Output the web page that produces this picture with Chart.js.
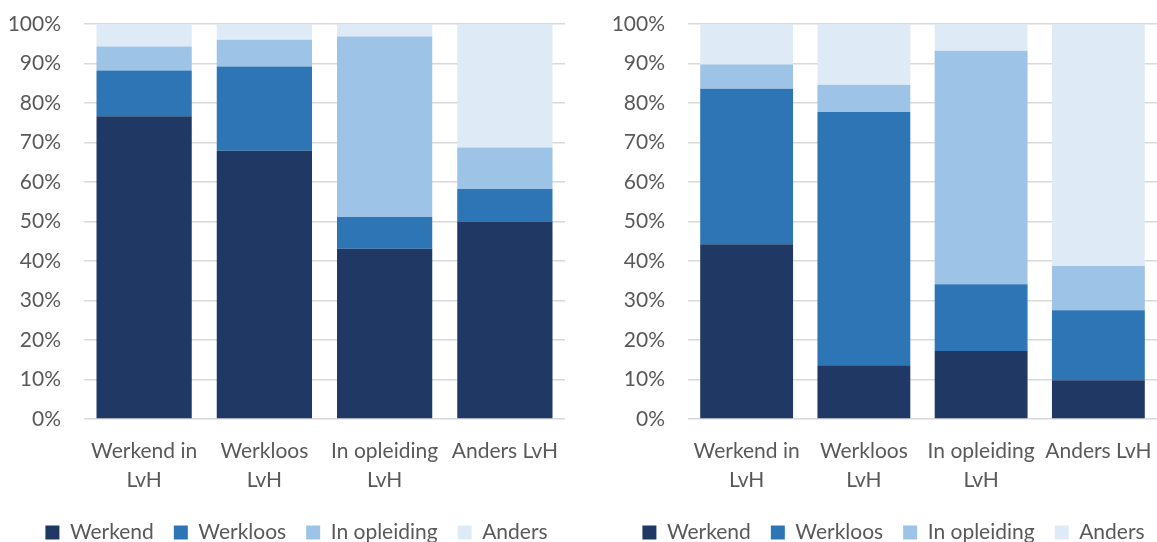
<!DOCTYPE html>
<html>
<head>
<meta charset="utf-8">
<script src="https://cdn.jsdelivr.net/npm/chart.js@4"></script>
<style>
  html, body { margin: 0; background: #fff; overflow: hidden; }
  .wrap { position: relative; width: 1157px; height: 542px; overflow: hidden; }
  .box { position: absolute; top: -13px; height: 566px; }
  #leftBox { left: 0; width: 578px; }
  #rightBox { left: 578px; width: 579px; }
</style>
</head>
<body>
<div class="wrap">
  <div class="box" id="leftBox"><canvas id="chartLeft"></canvas></div>
  <div class="box" id="rightBox"><canvas id="chartRight"></canvas></div>
</div>
<script>
const categories = [["Werkend in", "LvH"], ["Werkloos", "LvH"], ["In opleiding", "LvH"], "Anders LvH"];
const seriesNames = ["Werkend", "Werkloos", "In opleiding", "Anders"];
const seriesColors = ["#203864", "#2E75B6", "#9DC3E6", "#DEEBF7"];

// left chart, percentages per series
const leftWerkend = [76.6, 67.9, 43.1, 50.0];
const leftWerkloos = [11.6, 21.3, 8.0, 8.2];
const leftOpleiding = [6.1, 6.8, 45.7, 10.5];
const leftAnders = [5.7, 4.0, 3.2, 31.3];

// right chart
const rightWerkend = [44.2, 13.6, 17.2, 9.8];
const rightWerkloos = [39.4, 64.1, 16.9, 17.7];
const rightOpleiding = [6.1, 6.9, 59.1, 11.2];
const rightAnders = [10.3, 15.4, 6.8, 61.3];

const yTicks = [0, 10, 20, 30, 40, 50, 60, 70, 80, 90, 100];

const font = { family: "Lato, 'Open Sans', sans-serif", size: 21, lineHeight: 1.32 };
const xFont = { family: "Lato, 'Open Sans', sans-serif", size: 21, lineHeight: 1.38 };
const textColor = "#595959";

function makeChart(id, values, pad, yWidth, legendShift) {
    const ctx = document.getElementById(id).getContext("2d");
    return new Chart(ctx, {
        type: "bar",
        data: {
            labels: categories,
            datasets: seriesNames.map(function (name, i) {
                return {
                    label: name,
                    data: values[i],
                    backgroundColor: seriesColors[i],
                    borderWidth: 0,
                    categoryPercentage: 0.8,
                    barPercentage: 0.99
                };
            })
        },
        options: {
            responsive: true,
            maintainAspectRatio: false,
            animation: false,
            layout: { padding: pad },
            plugins: {
                tooltip: { enabled: false },
                legend: {
                    position: "bottom",
                    labels: {
                        color: textColor,
                        font: font,
                        boxWidth: 14,
                        boxHeight: 14,
                        padding: 20
                    }
                }
            },
            scales: {
                x: {
                    stacked: true,
                    grid: { display: false },
                    border: { display: false },
                    ticks: { color: textColor, font: xFont, maxRotation: 0, autoSkip: false, padding: 9.5 },
                    afterFit: function (scale) {
                        scale.height -= 2;
                        scale.paddingLeft = 0;
                        scale.paddingRight = 0;
                    }
                },
                y: {
                    stacked: true,
                    min: 0,
                    max: 100,
                    afterBuildTicks: function (axis) {
                        axis.ticks = yTicks.map(function (v) { return { value: v }; });
                    },
                    afterFit: function (scale) { scale.width = yWidth; },
                    grid: { color: "#D9D9D9", lineWidth: 1.5, drawTicks: false },
                    border: { display: false },
                    ticks: {
                        color: textColor,
                        font: font,
                        padding: 23,
                        callback: function (v) { return v + "%"; }
                    }
                }
            }
        },
        plugins: [{
            // legend sits a bit right of the canvas centre in the original
            id: "legendShift",
            afterLayout: function (chart) {
                chart.legend.left += legendShift;
                chart.legend.right += legendShift;
            }
        }]
    });
}

makeChart("chartLeft", [leftWerkend, leftWerkloos, leftOpleiding, leftAnders], { top: 0, right: 13, left: 6, bottom: 0 }, 78, 11);
makeChart("chartRight", [rightWerkend, rightWerkloos, rightOpleiding, rightAnders], { top: 0, right: 0, left: 6, bottom: 0 }, 104, 23);
</script>
</body>
</html>
